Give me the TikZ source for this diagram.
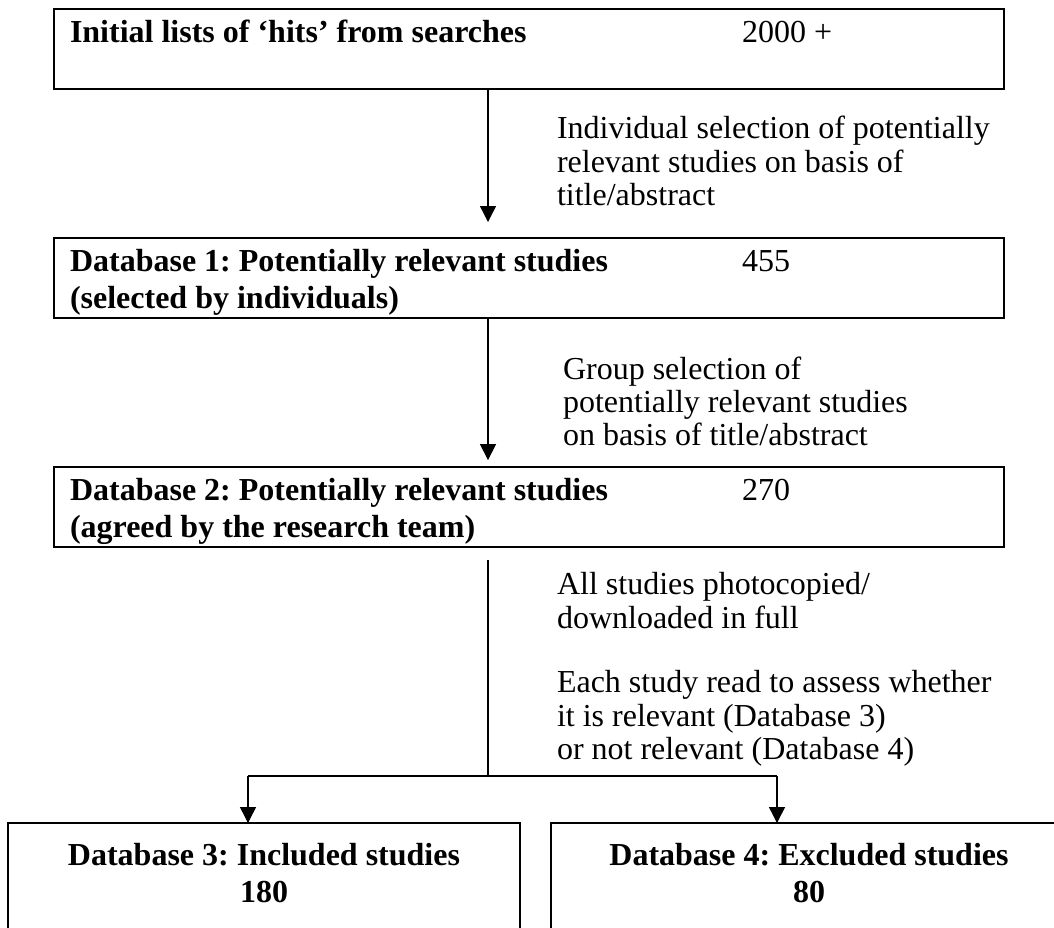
\documentclass[tikz,border=0pt]{standalone}
\usepackage{fontspec}
\setmainfont{Liberation Serif}
\usetikzlibrary{arrows.meta,calc}
\begin{document}
\frenchspacing
\begin{tikzpicture}[x=0.375pt,y=-0.375pt,
  every node/.style={inner sep=0pt,outer sep=0pt,font=\fontsize{12}{13.8}\selectfont},
  topbox/.style={draw,line width=0.85pt,minimum width=950*0.375pt,minimum height=80*0.375pt},
  lowbox/.style={draw,line width=0.65pt,minimum height=177*0.375pt},
  bt/.style={anchor=base west,font=\fontsize{12}{13.8}\selectfont\bfseries},
  bc/.style={anchor=base,font=\fontsize{12}{13.8}\selectfont\bfseries},
  nt/.style={anchor=base west},
  conn/.style={line width=0.5pt},
  arr/.style={conn,-{Triangle[length=6pt,width=6pt]}}
]
\clip (0,0) rectangle (1054,927);
\fill[white] (0,0) rectangle (1054,927);

% boxes
\node[topbox] (b1) at (529,49) {};
\node[topbox] (b2) at (529,278) {};
\node[topbox] (b3) at (529,507) {};
\node[lowbox,minimum width=512*0.375pt] (b4) at (264,911.5) {};
\node[lowbox,minimum width=516*0.375pt] (b5) at (809,911.5) {};

% box texts
\node[bt] (t1) at (70,42) {Initial lists of ‘hits’ from searches};
\node[nt] (n1) at (742,42) {2000 +};
\node[bt] (t2a) at (70,271) {Database 1: Potentially relevant studies};
\node[bt] (t2b) at (70,308) {(selected by individuals)};
\node[nt] (n2) at (742,271) {455};
\node[bt] (t3a) at (70,500) {Database 2: Potentially relevant studies};
\node[bt] (t3b) at (70,537) {(agreed by the research team)};
\node[nt] (n3) at (742,500) {270};
\node[bc] (t4a) at (264,865) {Database 3: Included studies};
\node[bc] (t4b) at (264,902) {180};
\node[bc] (t5a) at (809,865) {Database 4: Excluded studies};
\node[bc] (t5b) at (809,902) {80};

% labels
\node[nt] (l1a) at (557,138) {Individual selection of potentially};
\node[nt] (l1b) at (557,172) {relevant studies on basis of};
\node[nt] (l1c) at (557,205) {title/abstract};
\node[nt] (l2a) at (563,379) {Group selection of};
\node[nt] (l2b) at (563,412) {potentially relevant studies};
\node[nt] (l2c) at (563,445) {on basis of title/abstract};
\node[nt] (l3a) at (557,594) {All studies photocopied/};
\node[nt] (l3b) at (557,628) {downloaded in full};
\node[nt] (l3c) at (557,692) {Each study read to assess whether};
\node[nt] (l3d) at (557,726) {it is relevant (Database 3)};
\node[nt] (l3e) at (557,759) {or not relevant (Database 4)};

% connectors
\coordinate (fork) at (488,776);
\coordinate (forkL) at (248,776);
\coordinate (forkR) at (777,776);
\draw[arr,shorten >=6pt] (b1.south -| fork) -- (b2.north -| fork);
\draw[arr,shorten >=2.6pt] (b2.south -| fork) -- (b3.north -| fork);
\draw[conn,shorten <=4.9pt] (b3.south -| fork) -- (fork);
\draw[conn] (forkL) -- (forkR);
\draw[arr] (forkL) -- (forkL |- b4.north);
\draw[arr] (forkR) -- (forkR |- b5.north);
\end{tikzpicture}
\end{document}
